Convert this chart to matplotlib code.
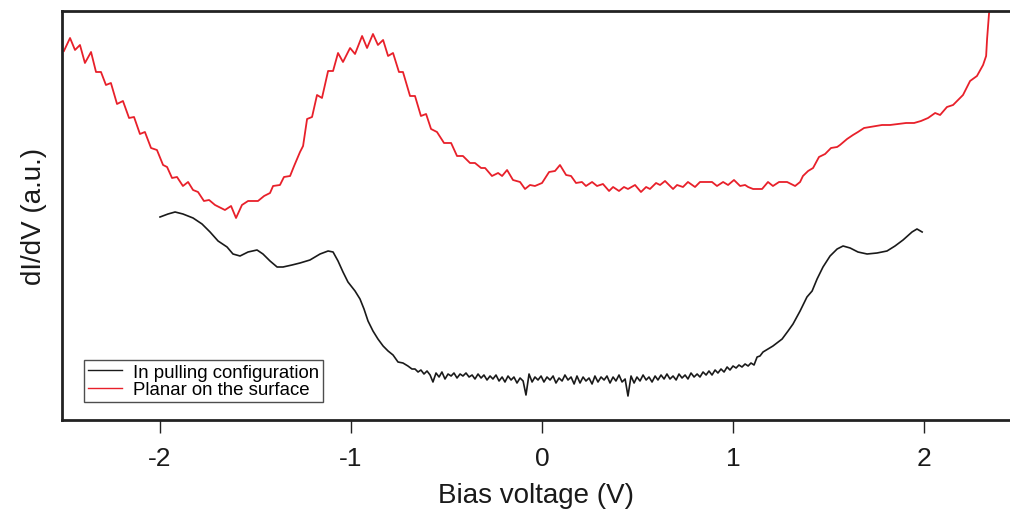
import matplotlib
matplotlib.use("Agg")
import matplotlib.pyplot as plt

plt.rcParams['font.family'] = ['Liberation Sans', 'DejaVu Sans']

# Planar on the surface (red)
red_v = [-2.503, -2.471, -2.445, -2.419, -2.393, -2.361, -2.335, -2.309, -2.283, -2.257,
         -2.225, -2.194, -2.162, -2.136, -2.105, -2.079, -2.047, -2.016, -1.984, -1.963,
         -1.937, -1.911, -1.880, -1.853, -1.827, -1.801, -1.770, -1.743, -1.712, -1.660,
         -1.628, -1.602, -1.571, -1.539, -1.487, -1.455, -1.424, -1.408, -1.372, -1.351,
         -1.319, -1.298, -1.267, -1.251, -1.230, -1.204, -1.178, -1.152, -1.120, -1.094,
         -1.068, -1.042, -1.005, -0.979, -0.942, -0.916, -0.885, -0.859, -0.832, -0.806,
         -0.780, -0.749, -0.728, -0.691, -0.665, -0.634, -0.607, -0.581, -0.550, -0.513,
         -0.476, -0.445, -0.414, -0.377, -0.351, -0.319, -0.298, -0.262, -0.230, -0.209,
         -0.183, -0.152, -0.115, -0.089, -0.063, -0.037, 0.000, 0.037, 0.068, 0.094,
         0.126, 0.152, 0.178, 0.209, 0.230, 0.262, 0.288, 0.319, 0.351, 0.372,
         0.403, 0.429, 0.450, 0.487, 0.518, 0.545, 0.565, 0.597, 0.618, 0.644,
         0.686, 0.707, 0.738, 0.764, 0.801, 0.827, 0.890, 0.916, 0.948, 0.974,
         1.005, 1.037, 1.063, 1.079, 1.105, 1.152, 1.183, 1.209, 1.241, 1.283,
         1.325, 1.351, 1.366, 1.393, 1.419, 1.450, 1.482, 1.513, 1.545, 1.560,
         1.597, 1.628, 1.654, 1.686, 1.717, 1.749, 1.780, 1.822, 1.864, 1.906,
         1.948, 1.984, 2.021, 2.058, 2.084, 2.120, 2.152, 2.204, 2.241, 2.277,
         2.309, 2.325, 2.330, 2.340, 2.346]
red_y = [369, 382, 370, 375, 357, 368, 348, 348, 335, 337,
         316, 319, 302, 303, 286, 288, 272, 270, 255, 253,
         242, 243, 234, 238, 230, 228, 219, 220, 215, 210,
         214, 202, 215, 219, 219, 224, 227, 234, 235, 243,
         244, 254, 268, 274, 301, 303, 325, 322, 349, 349,
         367, 358, 372, 366, 384, 372, 386, 375, 380, 364,
         367, 348, 348, 324, 324, 304, 306, 291, 288, 277,
         277, 264, 264, 257, 257, 252, 252, 244, 247, 244,
         250, 240, 238, 231, 235, 234, 237, 248, 249, 255,
         245, 244, 237, 238, 234, 238, 234, 236, 229, 233,
         229, 233, 231, 235, 228, 233, 231, 237, 235, 239,
         231, 235, 233, 238, 233, 238, 238, 234, 238, 235,
         240, 234, 235, 233, 231, 231, 238, 234, 238, 238,
         234, 238, 244, 249, 252, 263, 266, 272, 273, 275,
         281, 285, 288, 292, 293, 294, 295, 295, 296, 297,
         297, 299, 302, 307, 305, 313, 315, 325, 339, 344,
         355, 364, 381, 406, 416]

# In pulling configuration (black)
black_v = [-2.000, -1.958, -1.921, -1.880, -1.827, -1.780, -1.738, -1.696, -1.649, -1.618,
           -1.581, -1.539, -1.492, -1.461, -1.424, -1.387, -1.356, -1.309, -1.267, -1.215,
           -1.162, -1.120, -1.094, -1.068, -1.042, -1.016, -0.979, -0.953, -0.932, -0.911,
           -0.885, -0.859, -0.832, -0.806, -0.780, -0.754, -0.728, -0.702, -0.681,
           -0.665, -0.649, -0.634, -0.618, -0.602, -0.586, -0.571, -0.555, -0.539, -0.524,
           -0.508, -0.492, -0.476, -0.461, -0.445, -0.429, -0.414, -0.398, -0.382, -0.366,
           -0.351, -0.335, -0.319, -0.304, -0.288, -0.272, -0.257, -0.241, -0.225, -0.209,
           -0.194, -0.178, -0.162, -0.147, -0.131, -0.115, -0.099, -0.084, -0.068, -0.052,
           -0.037, -0.021, -0.005, 0.010, 0.026, 0.042, 0.058, 0.073, 0.089, 0.105,
           0.120, 0.136, 0.152, 0.168, 0.183, 0.199, 0.215, 0.230, 0.246, 0.262,
           0.277, 0.293, 0.309, 0.325, 0.340, 0.356, 0.372, 0.387, 0.403, 0.419,
           0.435, 0.450, 0.466, 0.482, 0.497, 0.513, 0.529, 0.545, 0.560, 0.576,
           0.592, 0.607, 0.623, 0.639, 0.654, 0.670, 0.686, 0.702, 0.717, 0.733,
           0.749, 0.764, 0.780, 0.796, 0.812, 0.827, 0.843, 0.859, 0.874, 0.890,
           0.906, 0.921, 0.937, 0.953, 0.969, 0.984, 1.000, 1.016, 1.031, 1.047,
           1.063, 1.079, 1.094, 1.110, 1.126, 1.141,
           1.157, 1.183, 1.209, 1.257, 1.288, 1.314, 1.351, 1.387, 1.414, 1.440,
           1.471, 1.508, 1.545, 1.576, 1.613, 1.654, 1.702, 1.754, 1.806, 1.848,
           1.890, 1.937, 1.963, 1.990]
black_y = [203, 206, 208, 206, 202, 196, 188, 179, 173, 166,
           164, 168, 170, 166, 159, 153, 153, 155, 157, 160,
           166, 169, 168, 159, 148, 138, 129, 121, 111, 99,
           89, 81, 74, 69, 65, 58, 57, 54, 51,
           51, 48, 50, 46, 49, 45, 38, 47, 43, 48,
           41, 46, 44, 47, 42, 46, 44, 47, 43, 45,
           41, 46, 42, 45, 40, 44, 41, 45, 39, 43,
           38, 44, 40, 43, 37, 42, 39, 25, 46, 38,
           43, 40, 44, 38, 43, 40, 44, 37, 42, 39,
           45, 40, 43, 36, 44, 37, 43, 39, 42, 36,
           44, 38, 43, 40, 44, 37, 43, 39, 45, 38,
           41, 24, 44, 37, 43, 39, 45, 40, 43, 38,
           44, 40, 45, 41, 46, 41, 44, 40, 46, 42,
           45, 41, 47, 43, 46, 43, 48, 45, 49, 45,
           50, 47, 51, 48, 53, 50, 54, 52, 55, 53,
           56, 54, 57, 55, 63, 64,
           68, 71, 74, 81, 89, 96, 109, 123, 129, 141,
           153, 164, 171, 174, 172, 168, 166, 167, 169, 174,
           180, 188, 191, 188]

series_labels = ["In pulling configuration", "Planar on the surface"]
x_ticks = [-2, -1, 0, 1, 2]

n = min(len(black_v), len(black_y))

fig = plt.figure(figsize=(10.1, 5.1), dpi=100)
ax = fig.add_axes([0.0614, 0.1745, 0.9386, 0.802])

ax.plot(black_v[:n], black_y[:n], color='#1a1a1a', lw=1.2, label=series_labels[0])
ax.plot(red_v, red_y, color='#e8202a', lw=1.3, label=series_labels[1])

ax.set_xlim(-2.513, 2.450)
ax.set_ylim(0, 409)

for s in ['left', 'top', 'bottom']:
    ax.spines[s].set_linewidth(2.0)
    ax.spines[s].set_color('#222222')
ax.spines['right'].set_visible(False)

ax.set_xticks(x_ticks)
ax.set_xticklabels([str(t) for t in x_ticks])
ax.set_yticks([])
ax.tick_params(axis='x', direction='out', length=9.5, width=1.0, color='#222222',
               labelsize=19, pad=9, labelcolor='#1a1a1a')

ax.set_xlabel("Bias voltage (V)", fontsize=20, color='#1a1a1a', labelpad=9)
ax.set_ylabel("dI/dV (a.u.)", fontsize=20, color='#1a1a1a', labelpad=11)

leg = ax.legend(loc='lower left', bbox_to_anchor=(0.0232, 0.044), fontsize=13.4,
                frameon=True, fancybox=False, edgecolor='#222222', handlelength=1.85,
                handletextpad=0.6, borderaxespad=0, borderpad=0.2, labelspacing=0.02)
leg.get_frame().set_linewidth(1.0)
for line in leg.get_lines():
    line.set_linewidth(1.0)

fig.savefig("out.png", dpi=100)
